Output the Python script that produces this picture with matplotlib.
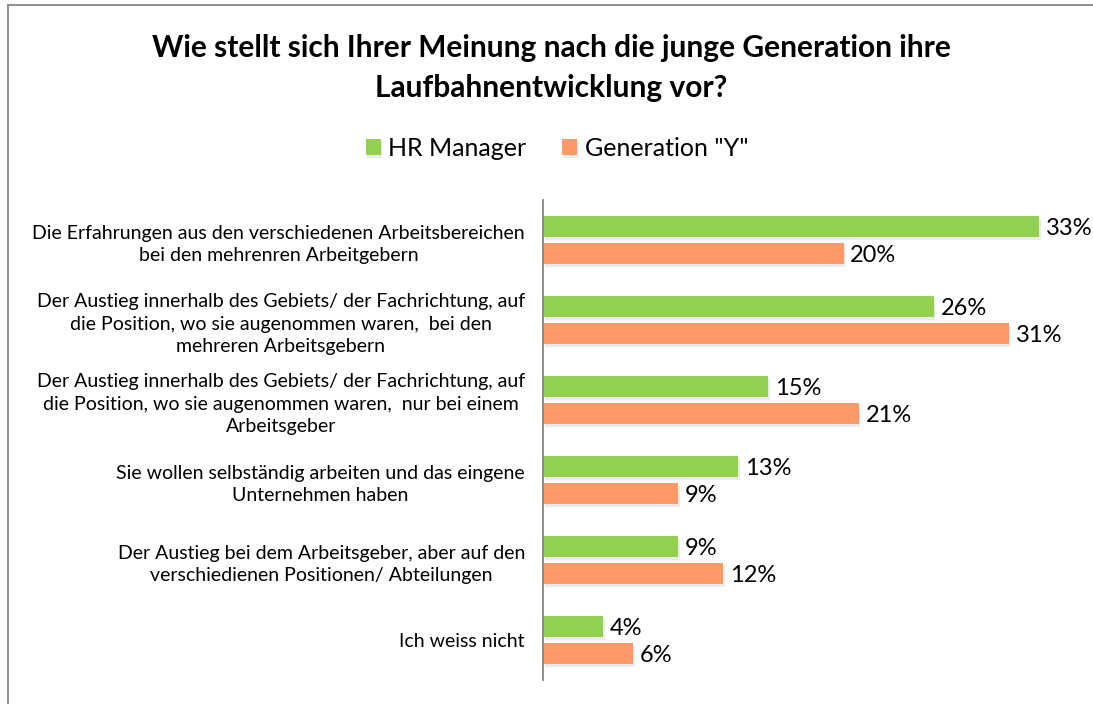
import matplotlib.pyplot as plt
import matplotlib.patheffects as pe
import numpy as np

plt.rcParams['font.family'] = ['Lato', 'DejaVu Sans']

categories = [
    "Die Erfahrungen aus den verschiedenen Arbeitsbereichen\nbei den mehrenren Arbeitgebern",
    "Der Austieg innerhalb des Gebiets/ der Fachrichtung, auf\ndie Position, wo sie augenommen waren,  bei den\nmehreren Arbeitsgebern",
    "Der Austieg innerhalb des Gebiets/ der Fachrichtung, auf\ndie Position, wo sie augenommen waren,  nur bei einem\nArbeitsgeber",
    "Sie wollen selbständig arbeiten und das eingene\nUnternehmen haben",
    "Der Austieg bei dem Arbeitsgeber, aber auf den\nverschiedienen Positionen/ Abteilungen",
    "Ich weiss nicht",
]
hr_manager = [33, 26, 15, 13, 9, 4]
generation_y = [20, 31, 21, 9, 12, 6]
series_names = ["HR Manager", 'Generation "Y"']

W, H = 1093, 704
fig = plt.figure(figsize=(W / 100, H / 100), dpi=100)

# axes placed in pixel terms: axis line at x=543, 15.03 px per percent
x0, y_top, y_bot = 543, 200, 680
xmax = 34
ax = fig.add_axes([x0 / W, 1 - y_bot / H, xmax * 15.03 / W, (y_bot - y_top) / H])

y = np.arange(len(categories))
h = 0.265
off = 0.168
shadow = [pe.SimplePatchShadow(offset=(1.2, -2.2), alpha=0.15, shadow_rgbFace='#7f7f7f'), pe.Normal()]
b1 = ax.barh(y - off, hr_manager, height=h, color='#92D050', label=series_names[0])
b2 = ax.barh(y + off, generation_y, height=h, color='#FF9966', label=series_names[1])
for bars in (b1, b2):
    for p in bars:
        p.set_path_effects(shadow)

for yy, v in zip(y - off, hr_manager):
    ax.text(v + 0.45, yy + 0.03, f"{v}%", va='center', ha='left', fontsize=17)
for yy, v in zip(y + off, generation_y):
    ax.text(v + 0.45, yy + 0.03, f"{v}%", va='center', ha='left', fontsize=17)

ax.set_xlim(0, xmax)
ax.set_ylim(len(categories) - 0.5, -0.5)
ax.set_yticks(y)
ax.set_yticklabels(categories, fontsize=14, multialignment='center', linespacing=1.36)
ax.tick_params(axis='y', length=0, pad=13)
ax.set_xticks([])
for s in ['top', 'right', 'bottom']:
    ax.spines[s].set_visible(False)
ax.spines['left'].set_color('#868686')
ax.spines['left'].set_linewidth(1.3)

fig.text(551 / W, 1 - 68 / H, "Wie stellt sich Ihrer Meinung nach die junge Generation ihre\nLaufbahnentwicklung vor?",
         ha='center', va='center', fontsize=21.5, fontweight='bold', linespacing=1.52)

fig.legend(handles=[b1, b2], labels=series_names, loc='center', bbox_to_anchor=(557 / W, 1 - 148 / H),
           ncol=2, frameon=False, fontsize=18, handlelength=0.6, handleheight=0.6,
           handletextpad=0.3, columnspacing=1.45)

# chart border (only left and top visible in the crop)
fig.add_artist(plt.Line2D([7.5 / W, 7.5 / W], [0, 1 - 5 / H], color='#868686', lw=1.3))
fig.add_artist(plt.Line2D([7.5 / W, 1], [1 - 5 / H, 1 - 5 / H], color='#868686', lw=1.3))

fig.savefig('out.png', dpi=100)
